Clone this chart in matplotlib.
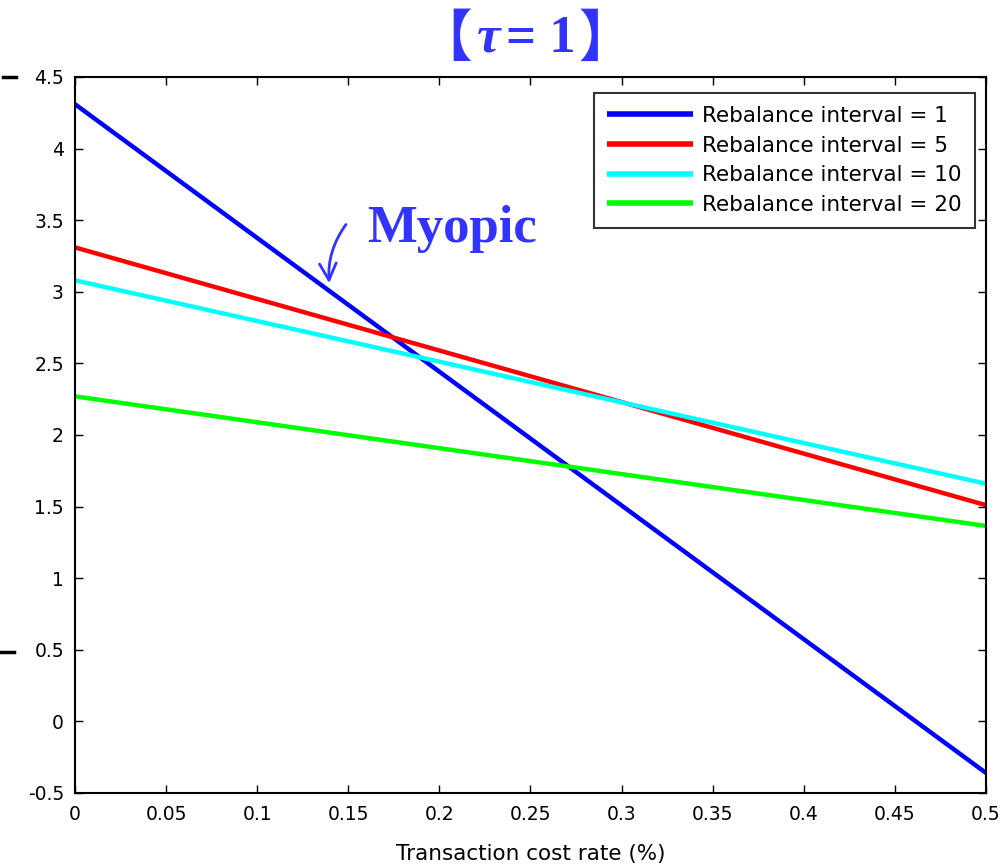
import matplotlib
matplotlib.use("Agg")
import matplotlib.pyplot as plt
from matplotlib.lines import Line2D

# ---- data ----
cost_rate = [0.0, 0.5]
interval_1 = [4.31, -0.36]
interval_5 = [3.31, 1.51]
interval_10 = [3.08, 1.66]
interval_20 = [2.27, 1.365]
series_labels = ["Rebalance interval = 1", "Rebalance interval = 5",
                 "Rebalance interval = 10", "Rebalance interval = 20"]
series_colors = ["#0000FF", "#FF0000", "#00FFFF", "#00FF00"]
x_ticks = [0, 0.05, 0.1, 0.15, 0.2, 0.25, 0.3, 0.35, 0.4, 0.45, 0.5]
x_ticklabels = ["0", "0.05", "0.1", "0.15", "0.2", "0.25", "0.3", "0.35", "0.4", "0.45", "0.5"]
y_ticks = [-0.5, 0, 0.5, 1, 1.5, 2, 2.5, 3, 3.5, 4, 4.5]
y_ticklabels = ["-0.5", "0", "0.5", "1", "1.5", "2", "2.5", "3", "3.5", "4", "4.5"]

W, H = 1003, 865
fig = plt.figure(figsize=(W/100, H/100), dpi=100)
ax = fig.add_axes([75/W, 1-793/H, (986-75)/W, (793-77)/H])

for ys, lab, c in zip([interval_1, interval_5, interval_10, interval_20], series_labels, series_colors):
    ax.plot(cost_rate, ys, color=c, lw=3.2, label=lab, solid_capstyle="butt")

ax.set_xlim(0, 0.5)
ax.set_ylim(-0.5, 4.5)
ax.set_xticks(x_ticks)
ax.set_xticklabels(x_ticklabels)
ax.set_yticks(y_ticks)
ax.set_yticklabels(y_ticklabels)
ax.tick_params(direction="in", length=6, width=1, top=True, right=True,
               labelsize=13.5)
ax.tick_params(axis="x", pad=9)
ax.tick_params(axis="y", pad=8)
for s in ax.spines.values():
    s.set_linewidth(1.5)
ax.set_xlabel("Transaction cost rate (%)", fontsize=15.5, labelpad=14)

leg = ax.legend(loc="upper right", bbox_to_anchor=((975-75)/911, (793-93)/716),
                borderaxespad=0, fontsize=15.5, frameon=True, fancybox=False,
                edgecolor="black", handlelength=4.0, handletextpad=0.42,
                labelspacing=0.45, borderpad=0.6)
leg.get_frame().set_linewidth(1.5)
for h in leg.legend_handles:
    h.set_linewidth(4)

# title pieces
tcol = "#3333FF"
bfs = 40
tfs = 38
bfam = ["Noto Sans CJK JP", "DejaVu Sans"]
fig.text(416/W, 1-40/H, "【", ha="left", va="center", fontsize=bfs,
         fontweight="bold", color=tcol, family=bfam)
fig.text(477/W, 1-39/H, "τ", ha="left", va="center", fontsize=tfs,
         fontweight="bold", style="italic", color=tcol, family="Liberation Serif")
fig.text(506/W, 1-39/H, "= 1", ha="left", va="center", fontsize=tfs,
         fontweight="bold", color=tcol, family="Liberation Serif")
fig.text(634/W, 1-40/H, "】", ha="right", va="center", fontsize=bfs,
         fontweight="bold", color=tcol, family=bfam)

# annotation
ax.annotate("", xy=(0.1395, 3.06), xytext=(0.1487, 3.47),
            arrowprops=dict(arrowstyle="->", color=tcol, lw=2,
                            mutation_scale=30, shrinkA=0, shrinkB=0,
                            connectionstyle="arc3,rad=0.18"))
ax.text(0.1605, 3.44, "Myopic", fontsize=38, fontweight="bold",
        color=tcol, family="Liberation Serif", va="center", ha="left")

# stray marks on the left edge
fig.add_artist(Line2D([3/W, 16/W], [1-77/H, 1-77/H], color="black", lw=2.5))
fig.add_artist(Line2D([1/W, 14/W], [1-652/H, 1-652/H], color="black", lw=2.5))

fig.savefig("out.png", dpi=100)
